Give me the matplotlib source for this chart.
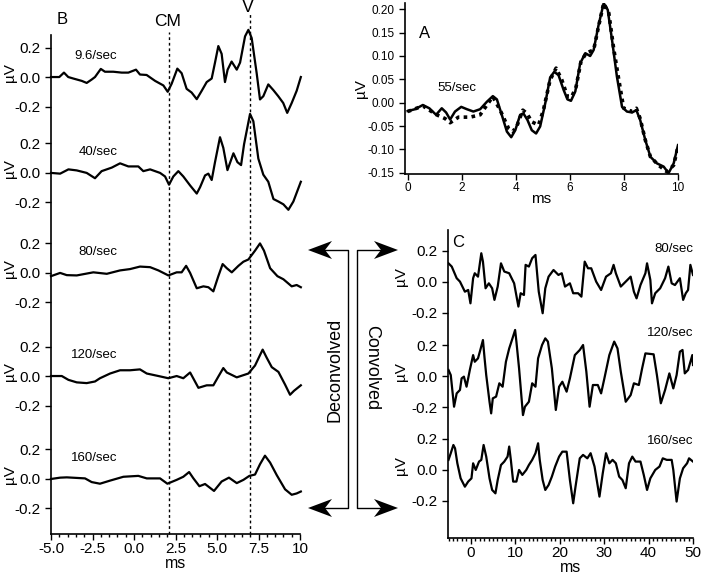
import matplotlib.pyplot as plt
import matplotlib.transforms as mtransforms
from matplotlib.patches import Polygon
from matplotlib.ticker import MultipleLocator

plt.rcParams['font.family'] = ['Liberation Sans', 'DejaVu Sans']
plt.rcParams['axes.unicode_minus'] = False

W, H = 704, 574

# ---------------- data ----------------
# panel A: 55/sec, measured (solid) and predicted (dotted)
a_t = [0, 0.27, 0.56, 0.8, 1.05, 1.26, 1.42, 1.57, 1.75, 1.98, 2.19, 2.43, 2.68, 2.93, 3.15,
       3.3, 3.48, 3.67, 3.83, 3.98, 4.16, 4.28, 4.43, 4.59, 4.75, 4.9, 5.09, 5.27, 5.42, 5.58,
       5.77, 5.91, 6.04, 6.2, 6.38, 6.57, 6.75, 6.88, 7.06, 7.25, 7.4, 7.56, 7.74, 7.93, 8.11,
       8.3, 8.46, 8.6, 8.79, 8.98, 9.22, 9.47, 9.65, 9.84, 10.0]
a_solid = [-0.018, -0.014, -0.005, -0.012, -0.026, -0.012, -0.021, -0.036, -0.019, -0.009,
           -0.014, -0.019, -0.014, 0.002, 0.014, 0.007, -0.026, -0.062, -0.074, -0.059, -0.026,
           -0.023, -0.037, -0.059, -0.066, -0.051, -0.001, 0.054, 0.066, 0.059, 0.027, 0.007,
           0.004, 0.024, 0.084, 0.106, 0.1, 0.113, 0.166, 0.213, 0.199, 0.134, 0.056, -0.009,
           -0.019, -0.021, -0.016, -0.037, -0.08, -0.116, -0.13, -0.137, -0.151, -0.13, -0.091]
a_t2 = [0, 0.56, 1.07, 1.38, 1.57, 1.88, 2.31, 2.68, 2.93, 3.15, 3.42, 3.73, 3.89, 4.04, 4.26,
        4.41, 4.59, 4.84, 5.02, 5.27, 5.49, 5.7, 5.91, 6.07, 6.23, 6.41, 6.6, 6.88, 7.06, 7.25,
        7.44, 7.62, 7.81, 7.99, 8.3, 8.46, 8.6, 8.79, 8.98, 9.28, 9.59, 9.84, 10.0]
a_dotted = [-0.019, -0.007, -0.026, -0.034, -0.043, -0.031, -0.031, -0.026, -0.005, 0.013,
            -0.016, -0.055, -0.062, -0.05, -0.016, -0.023, -0.041, -0.048, -0.016, 0.049, 0.074,
            0.049, 0.013, 0.013, 0.034, 0.088, 0.106, 0.113, 0.163, 0.213, 0.192, 0.116, 0.049,
            -0.012, -0.019, -0.012, -0.034, -0.08, -0.116, -0.134, -0.148, -0.134, -0.094]

# panel B: deconvolved responses
b_rates = ['9.6/sec', '40/sec', '80/sec', '120/sec', '160/sec']
b_t = [
    [-5.0, -4.5, -4.22, -3.96, -3.66, -3.15, -2.85, -2.55, -2.35, -2.0, -1.75, -1.25, -0.74,
     -0.34, 0.12, 0.36, 0.76, 1.27, 1.77, 2.03, 2.27, 2.61, 2.87, 3.17, 3.47, 3.78, 4.08, 4.38,
     4.68, 4.88, 5.08, 5.28, 5.48, 5.64, 5.88, 6.19, 6.39, 6.69, 6.89, 7.09, 7.39, 7.59, 7.79,
     8.09, 8.39, 8.69, 8.99, 9.23, 9.5, 9.8, 10.05],
    [-5.0, -4.45, -3.95, -3.45, -2.85, -2.35, -1.95, -1.34, -0.84, -0.34, 0.26, 0.56, 0.97,
     1.57, 1.87, 2.11, 2.37, 2.67, 2.97, 3.38, 3.78, 3.98, 4.28, 4.48, 4.68, 4.88, 5.18, 5.38,
     5.63, 5.99, 6.23, 6.45, 6.63, 6.99, 7.19, 7.49, 7.79, 8.09, 8.4, 8.7, 9.0, 9.3, 9.6, 10.05],
    [-5.0, -4.45, -4.05, -3.45, -2.45, -1.64, -0.84, -0.24, 0.36, 0.97, 1.47, 2.07, 2.57, 2.87,
     3.14, 3.38, 3.78, 4.18, 4.48, 4.78, 5.08, 5.34, 5.59, 5.89, 6.29, 6.59, 6.89, 7.29, 7.59,
     7.83, 8.2, 8.64, 9.0, 9.5, 9.8, 10.05],
    [-5.0, -4.35, -3.95, -3.45, -2.85, -2.35, -2.05, -1.44, -0.84, -0.24, 0.36, 0.77, 1.47,
     2.07, 2.57, 2.97, 3.38, 3.88, 4.38, 4.78, 5.08, 5.38, 5.59, 6.19, 6.89, 7.29, 7.75, 7.99,
     8.3, 8.7, 9.1, 9.4, 9.64, 10.05],
    [-5.0, -4.45, -4.05, -2.95, -2.55, -2.05, -1.44, -0.64, 0.26, 0.77, 1.57, 2.01, 2.57, 2.97,
     3.32, 3.58, 3.94, 4.28, 4.82, 5.28, 5.72, 6.19, 6.59, 6.95, 7.29, 7.59, 7.89, 8.2, 8.6,
     9.1, 9.5, 9.8, 10.05],
]
b_v = [
    [0.0, 0.0, 0.03, 0.0, -0.01, -0.026, -0.04, -0.017, 0.0, 0.055, 0.036, 0.036, 0.03, 0.03,
     0.05, 0.017, 0.014, -0.026, -0.057, -0.1, -0.045, 0.057, 0.026, -0.08, -0.105, -0.15,
     -0.093, -0.034, -0.01, 0.098, 0.21, 0.157, -0.034, 0.05, 0.105, 0.05, 0.098, 0.276, 0.32,
     0.264, 0.026, -0.152, -0.13, -0.05, -0.088, -0.13, -0.176, -0.243, -0.176, -0.093, 0.0],
    [0.0, -0.005, 0.024, 0.017, 0.0, -0.036, 0.012, 0.036, 0.065, 0.044, 0.044, 0.012, 0.024,
     0.0, -0.024, -0.08, -0.024, 0.012, -0.024, -0.085, -0.14, -0.097, -0.017, -0.005, -0.048,
     0.073, 0.242, 0.17, 0.019, 0.133, 0.073, 0.053, 0.194, 0.4, 0.35, 0.097, -0.012, -0.06,
     -0.177, -0.194, -0.213, -0.25, -0.194, -0.06],
    [-0.022, 0.0, -0.015, -0.017, 0.004, -0.006, 0.017, 0.026, 0.043, 0.039, 0.017, -0.017,
     0.004, 0.004, 0.048, 0.0, -0.104, -0.091, -0.097, -0.125, -0.022, 0.06, 0.032, 0.004,
     0.048, 0.076, 0.091, 0.151, 0.2, 0.151, 0.032, -0.022, -0.043, -0.091, -0.082, -0.097],
    [0.0, 0.0, -0.026, -0.043, -0.048, -0.037, -0.015, 0.017, 0.039, 0.039, 0.045, 0.017, 0.0,
     -0.015, 0.0, -0.015, 0.024, -0.08, -0.063, -0.063, -0.004, 0.054, 0.024, -0.009, 0.017,
     0.071, 0.179, 0.125, 0.06, 0.028, -0.058, -0.127, -0.1, -0.063],
    [0.0, 0.009, 0.011, 0.004, -0.021, -0.032, -0.011, 0.015, 0.021, 0.004, 0.004, -0.032,
     -0.006, 0.015, 0.047, 0.004, -0.049, -0.034, -0.081, -0.017, 0.009, -0.028, -0.006, 0.021,
     0.03, 0.1, 0.158, 0.111, 0.026, -0.07, -0.107, -0.098, -0.085],
]
cm_t = 2.1
v_t = 7.0

# panel C: convolved (raw) responses
c_rates = ['80/sec', '120/sec', '160/sec']
c_t = [
    [-5.02, -4.29, -3.18, -2.44, -1.33, -0.59, -0.08, 0.52, 0.89, 1.62, 2.36, 2.73, 3.32, 4.06,
     4.8, 5.32, 6.05, 6.79, 7.53, 8.64, 9.75, 10.71, 11.22, 11.96, 12.33, 13.07, 13.81, 14.55,
     15.29, 16.17, 16.76, 17.5, 18.61, 19.72, 20.46, 21.2, 22.3, 23.04, 24.15, 24.89, 25.63,
     26.37, 27.1, 28.21, 29.32, 30.43, 31.53, 32.13, 32.64, 33.75, 34.86, 35.97, 36.7, 37.3,
     38.18, 39.29, 39.66, 40.4, 40.77, 41.5, 42.61, 43.72, 44.46, 45.2, 45.94, 47.05, 47.78,
     48.37, 48.89, 49.41, 50.0],
    [-5.02, -4.51, -3.77, -3.18, -2.44, -2.07, -1.55, -0.96, -0.22, 0.52, 0.89, 1.62, 2.14, 2.73,
     3.1, 3.47, 4.21, 4.58, 4.95, 5.69, 6.42, 7.16, 7.9, 8.64, 9.38, 9.97, 10.26, 10.86, 11.74,
     12.18, 13.07, 13.81, 14.55, 15.14, 16.03, 16.76, 17.35, 18.24, 19.13, 19.87, 20.6, 21.56,
     22.3, 23.41, 24.52, 25.26, 26.0, 26.73, 27.47, 28.58, 29.32, 30.06, 31.17, 32.27, 33.01,
     33.75, 34.86, 35.97, 36.7, 37.81, 38.55, 39.29, 41.14, 41.88, 42.76, 43.72, 44.68, 45.57,
     46.31, 47.05, 47.64, 48.15, 48.89, 49.85, 50.0],
    [-5.02, -4.51, -3.92, -3.55, -3.03, -2.29, -1.33, -0.59, 0.15, 0.52, 1.11, 1.85, 2.36, 2.88,
     3.47, 4.21, 4.8, 5.54, 6.05, 6.79, 7.53, 8.27, 8.64, 9.01, 9.53, 10.26, 10.86, 11.59,
     12.48, 13.07, 13.81, 14.55, 15.14, 15.51, 16.17, 16.76, 17.5, 18.24, 18.98, 19.87, 20.6,
     21.56, 22.3, 23.04, 23.56, 24.52, 25.26, 26.22, 26.96, 27.84, 28.95, 29.69, 30.43, 31.17,
     31.9, 32.64, 33.38, 34.12, 34.86, 35.6, 36.34, 37.07, 38.18, 38.92, 39.66, 40.4, 41.5,
     42.46, 43.2, 44.09, 45.2, 45.57, 46.31, 47.05, 47.78, 48.67, 49.11, 50.0],
]
c_v = [
    [0.118, 0.097, 0.022, 0.0, -0.065, -0.054, -0.14, 0.022, 0.054, 0.032, 0.183, 0.129,
     -0.043, -0.011, -0.043, -0.118, -0.032, 0.118, 0.065, 0.054, -0.011, -0.161, -0.075,
     -0.086, 0.108, 0.097, 0.151, 0.172, -0.065, -0.204, -0.043, 0.032, 0.075, 0.043, 0.054,
     -0.032, -0.011, -0.075, -0.075, -0.097, 0.129, 0.086, 0.086, 0.0, -0.054, 0.032, 0.054,
     0.108, 0.054, -0.032, 0.0, 0.032, -0.065, -0.108, -0.022, 0.054, 0.118, 0.011, -0.14,
     -0.075, -0.043, 0.022, 0.097, -0.011, -0.022, 0.022, -0.118, -0.075, -0.054, 0.108, 0.043],
    [0.039, 0.006, -0.198, -0.112, -0.09, -0.015, -0.004, -0.069, 0.039, 0.135, 0.092, 0.114,
     0.168, 0.232, 0.114, 0.006, -0.166, -0.241, -0.144, -0.133, -0.047, -0.069, 0.092, 0.178,
     0.243, 0.297, 0.222, 0.049, -0.252, -0.198, -0.166, -0.047, -0.069, 0.114, 0.2, 0.243,
     0.222, 0.049, -0.219, -0.069, -0.037, -0.101, -0.015, 0.135, 0.168, 0.2, 0.028, -0.198,
     -0.058, -0.058, -0.112, -0.015, 0.135, 0.222, 0.178, 0.028, -0.166, -0.123, -0.047,
     -0.058, 0.049, 0.146, 0.14, 0.006, -0.176, -0.09, 0.017, -0.08, 0.006, 0.157, 0.168,
     0.017, 0.039, 0.135, 0.071],
    [0.065, 0.108, 0.161, 0.14, 0.043, -0.054, -0.108, -0.075, -0.054, 0.043, 0.0, 0.054,
     0.065, 0.161, 0.086, -0.054, -0.129, -0.151, -0.065, 0.032, 0.054, 0.086, 0.151, 0.065,
     -0.075, -0.075, 0.0, -0.032, 0.0, 0.032, 0.065, 0.108, 0.172, 0.065, -0.065, -0.129,
     -0.097, -0.043, 0.022, 0.086, 0.118, 0.118, -0.065, -0.215, -0.108, 0.075, 0.097, 0.075,
     0.108, 0.022, -0.172, -0.022, 0.108, 0.043, 0.065, 0.043, -0.043, -0.065, -0.118, 0.043,
     0.086, 0.054, 0.054, -0.032, -0.129, -0.054, 0.0, 0.022, 0.075, 0.065, 0.065, 0.0,
     -0.204, -0.054, 0.011, 0.043, 0.075, 0.054],
]

# ---------------- layout helpers ----------------
def rect(left, top, right, bottom):
    return [left / W, 1 - bottom / H, (right - left) / W, (bottom - top) / H]


def style(ax):
    for s in ['top', 'right']:
        ax.spines[s].set_visible(False)
    for s in ['left', 'bottom']:
        ax.spines[s].set_linewidth(1.2)
    ax.tick_params(which='major', direction='out', length=4, width=1)
    ax.tick_params(which='minor', direction='out', length=2.5, width=1)
    ax.patch.set_alpha(0)


fig = plt.figure(figsize=(W / 100, H / 100), dpi=100)

# ---------------- panel B ----------------
axB = fig.add_axes(rect(51, 35, 300, 534))
style(axB)
b_off = [2.725, 2.075, 1.397, 0.698, 0.0]
trB = mtransforms.blended_transform_factory(axB.transAxes, axB.transData)
for t, v, off, lab in zip(b_t, b_v, b_off, b_rates):
    axB.plot(t, [x + off for x in v], color='black', lw=1.6, clip_on=False)
    axB.text(-1.0, off + 0.14, lab, ha='right', va='center', fontsize=9.5)
    axB.text(-0.165, off + 0.03, 'µV', rotation=90, ha='center', va='center',
             fontsize=11, transform=trB)
yt, yl = [], []
for off in b_off:
    yt += [off + 0.2, off, off - 0.2]
    yl += ['0.2', '0.0', '-0.2']
axB.set_yticks(yt)
axB.set_yticklabels(yl, fontsize=11)
axB.set_ylim(-0.373, 3.01)
axB.set_xlim(-5, 10)
axB.set_xticks([-5, -2.5, 0, 2.5, 5, 7.5, 10])
axB.set_xticklabels(['-5.0', '-2.5', '0.0', '2.5', '5.0', '7.5', '10'], fontsize=11)
axB.xaxis.set_minor_locator(MultipleLocator(0.5))
axB.tick_params(axis='x', pad=2)
axB.set_xlabel('ms', fontsize=11.5, labelpad=0)
axB.plot([cm_t, cm_t], [-0.373, 3.03], color='black', lw=1, ls=(0, (2, 2)), clip_on=False)
axB.plot([v_t, v_t], [-0.373, 3.16], color='black', lw=1, ls=(0, (2, 2)), clip_on=False)
fig.text(62 / W, 1 - 19 / H, 'B', fontsize=12, ha='center', va='center')
fig.text(168 / W, 1 - 21 / H, 'CM', fontsize=12.5, ha='center', va='center')
fig.text(248 / W, 1 - 8 / H, 'V', fontsize=13, ha='center', va='center')

# ---------------- panel A ----------------
axA = fig.add_axes(rect(405, 3, 678, 174))
style(axA)
axA.plot(a_t, a_solid, color='black', lw=1.8)
axA.plot(a_t2, a_dotted, color='black', lw=2.6, ls=(0, (1, 1.2)))
axA.set_xlim(-0.1, 10)
axA.set_ylim(-0.1528, 0.2135)
axA.set_xticks([0, 2, 4, 6, 8, 10])
axA.set_yticks([-0.15, -0.10, -0.05, 0, 0.05, 0.10, 0.15, 0.20])
axA.set_yticklabels(['-0.15', '-0.10', '-0.05', '0.00', '0.05', '0.10', '0.15', '0.20'],
                    fontsize=8.5)
axA.set_xticklabels(['0', '2', '4', '6', '8', '10'], fontsize=8.5)
axA.tick_params(axis='x', pad=2)
axA.set_xlabel('ms', fontsize=11, labelpad=-2)
axA.set_ylabel('µV', fontsize=11, labelpad=0)
axA.text(0.64, 0.149, 'A', fontsize=12, ha='center', va='center')
axA.text(1.82, 0.031, '55/sec', fontsize=9.5, ha='center', va='center')

# ---------------- panel C ----------------
axC = fig.add_axes(rect(447.7, 230, 693, 538))
style(axC)
c_off = [1.215, 0.606, 0.0]
c_lab_dy = [0.21, 0.28, 0.19]
trC = mtransforms.blended_transform_factory(axC.transAxes, axC.transData)
for t, v, off, lab, dy in zip(c_t, c_v, c_off, c_rates, c_lab_dy):
    axC.plot(t, [x + off for x in v], color='black', lw=1.6)
    axC.text(50, off + dy, lab, ha='right', va='center', fontsize=9.5)
    axC.text(-0.19, off + 0.03, 'µV', rotation=90, ha='center', va='center',
             fontsize=11, transform=trC)
yt, yl = [], []
for off in c_off:
    yt += [off + 0.2, off, off - 0.2]
    yl += ['0.2', '0.0', '-0.2']
axC.set_yticks(yt)
axC.set_yticklabels(yl, fontsize=11)
axC.set_ylim(-0.439, 1.548)
axC.set_xlim(-5.2, 50)
axC.set_xticks([0, 10, 20, 30, 40, 50])
axC.set_xticklabels(['0', '10', '20', '30', '40', '50'], fontsize=11)
axC.xaxis.set_minor_locator(MultipleLocator(1))
axC.tick_params(axis='x', pad=2)
axC.set_xlabel('ms', fontsize=11.5, labelpad=0)
axC.text(0.041, 0.958, 'C', transform=axC.transAxes, fontsize=12, ha='center', va='center')

# ---------------- brackets with arrows ----------------
ov = fig.add_axes([0, 0, 1, 1])
ov.set_xlim(0, W)
ov.set_ylim(H, 0)
ov.axis('off')
ov.patch.set_alpha(0)


def head(x_tip, y, d):
    # d = -1 pointing left, +1 pointing right
    pts = [(x_tip, y), (x_tip - d * 24, y - 9), (x_tip - d * 17, y), (x_tip - d * 24, y + 9)]
    ov.add_patch(Polygon(pts, closed=True, color='black', lw=0))


y_top, y_bot = 250, 508
ov.plot([325, 347.7, 347.7, 325], [y_top, y_top, y_bot, y_bot], color='black', lw=1)
ov.plot([385, 357.3, 357.3, 385], [y_top, y_top, y_bot, y_bot], color='black', lw=1)
for y in (y_top, y_bot):
    head(308, y, -1)
    head(398, y, 1)
ov.text(335, 370, 'Deconvolved', rotation=90, ha='center', va='center', fontsize=13)
ov.text(372, 368, 'Convolved', rotation=-90, ha='center', va='center', fontsize=13)

fig.savefig('out.png', dpi=100)
